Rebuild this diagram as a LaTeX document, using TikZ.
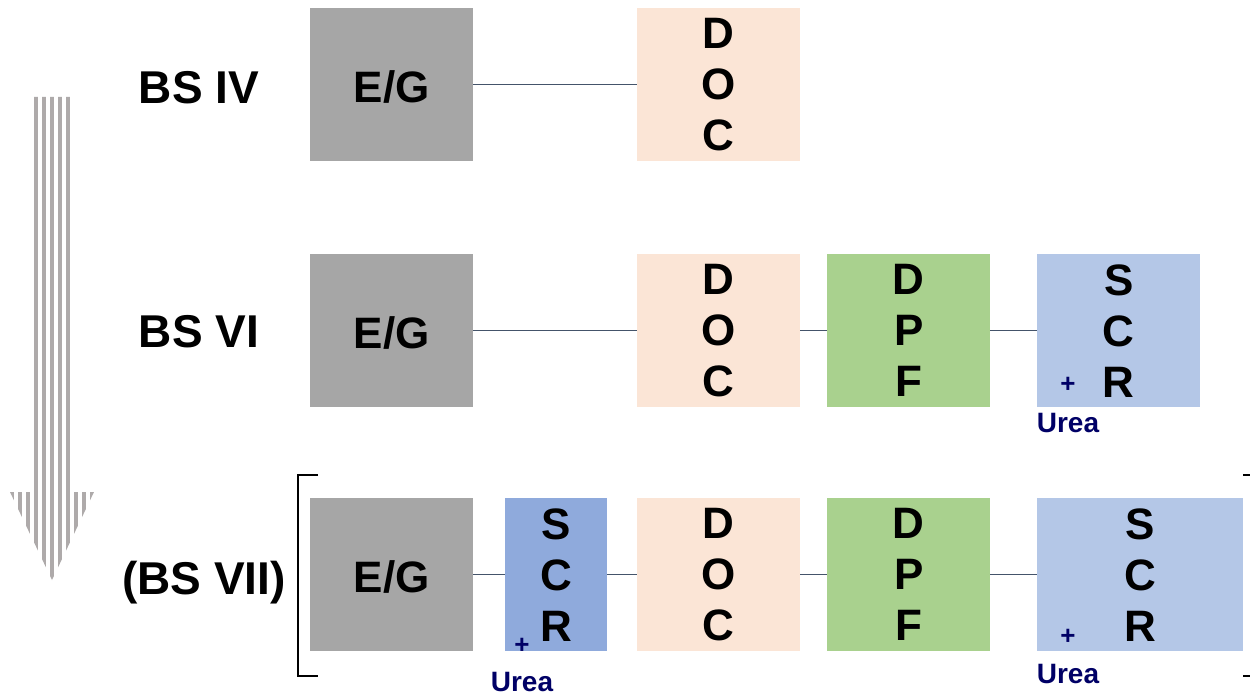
\documentclass[tikz,border=0pt]{standalone}
\usepackage{fontspec}
\setmainfont{Liberation Sans}
\definecolor{egcol}{HTML}{A6A6A6}
\definecolor{doccol}{HTML}{FBE5D6}
\definecolor{dpfcol}{HTML}{A9D18E}
\definecolor{scrcol}{HTML}{B4C7E7}
\definecolor{scrdark}{HTML}{8FAADC}
\definecolor{conncol}{HTML}{44546A}
\definecolor{ureacol}{HTML}{000066}
\definecolor{stripecol}{HTML}{AEAAAA}
\begin{document}
\begin{tikzpicture}[x=1pt,y=-1pt,
  box/.style={minimum width=163pt, minimum height=153pt, inner sep=0pt, anchor=north west,
    font=\fontsize{44}{51}\selectfont\bfseries, align=center,
    execute at begin node={\rule{0pt}{36pt}}},
  conn/.style={draw=conncol, line width=1.3pt},
  bslabel/.style={font=\fontsize{46}{52}\selectfont\bfseries, anchor=base, inner sep=0pt},
  urea/.style={font=\fontsize{28}{32}\selectfont\bfseries, text=ureacol, anchor=base, inner sep=0pt},
  plus/.style={font=\fontsize{26}{30}\selectfont\bfseries, text=ureacol, inner sep=0pt},
  brack/.style={draw=black, line width=2pt}]
\useasboundingbox (0,0) rectangle (1250,695);
\clip (0,0) rectangle (1250,695);
\fill[white] (0,0) rectangle (1250,695);

% striped arrow
\begin{scope}
  \clip (34,97) -- (70,97) -- (70,492) -- (94,492) -- (52,580) -- (10,492) -- (34,492) -- cycle;
  \foreach \k in {0,...,10} {
    \fill[stripecol] ({10+8*\k},90) rectangle ({13.5+8*\k},590);
  }
\end{scope}

% labels
\node[bslabel] (l1) at (199,103.5) {BS IV};
\node[bslabel] (l2) at (199,347.5) {BS VI};
\node[bslabel] (l3) at (204,594) {(BS VII)};

% row 1
\node[box, fill=egcol] (eg1) at (310,8) {E/G};
\node[box, fill=doccol] (doc1) at (637,8) {D\\O\\C};
\draw[conn] (eg1.east) -- (doc1.west);

% row 2
\node[box, fill=egcol] (eg2) at (310,254) {E/G};
\node[box, fill=doccol] (doc2) at (637,254) {D\\O\\C};
\node[box, fill=dpfcol] (dpf2) at (827,254) {D\\P\\F};
\node[box, fill=scrcol] (scr2) at (1037,254) {S\\C\\R};
\draw[conn] (eg2.east) -- (doc2.west);
\draw[conn] (doc2.east) -- (dpf2.west);
\draw[conn] (dpf2.east) -- (scr2.west);
\node[plus] (p2) at (1068,385) {+};
\node[urea] (u2) at (1068,432) {Urea};

% row 3
\node[box, fill=egcol] (eg3) at (310,498) {E/G};
\node[box, fill=scrdark, minimum width=102pt] (scr3a) at (505,498) {S\\C\\R};
\node[box, fill=doccol] (doc3) at (637,498) {D\\O\\C};
\node[box, fill=dpfcol] (dpf3) at (827,498) {D\\P\\F};
\node[box, fill=scrcol, minimum width=206pt] (scr3b) at (1037,498) {S\\C\\R};
\draw[conn] (eg3.east) -- (scr3a.west);
\draw[conn] (scr3a.east) -- (doc3.west);
\draw[conn] (doc3.east) -- (dpf3.west);
\draw[conn] (dpf3.east) -- (scr3b.west);
\node[plus] (p3a) at (522,646) {+};
\node[urea] (u3a) at (522,691) {Urea};
\node[plus] (p3b) at (1068,637) {+};
\node[urea] (u3b) at (1068,683) {Urea};

% brackets
\coordinate (bl1) at (318,475);
\coordinate (bl2) at (298,475);
\coordinate (bl3) at (298,676);
\coordinate (bl4) at (318,676);
\draw[brack] (bl1) -- (bl2) -- (bl3) -- (bl4);
\coordinate (br1) at (1243,475);
\coordinate (br2) at (1262,475);
\coordinate (br3) at (1262,676);
\coordinate (br4) at (1243,676);
\draw[brack] (br1) -- (br2) -- (br3) -- (br4);
\end{tikzpicture}
\end{document}
